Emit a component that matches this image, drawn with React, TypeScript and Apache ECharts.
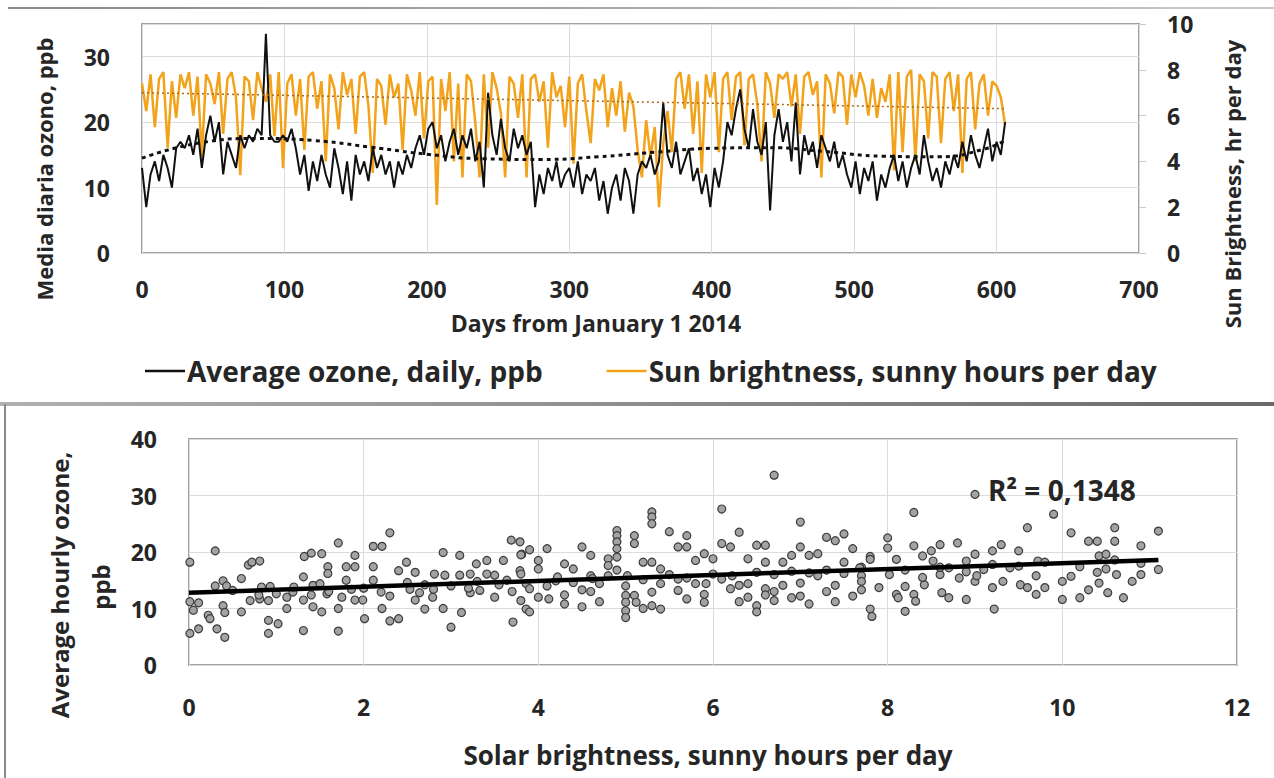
import React, { useEffect, useRef } from "react";
import * as echarts from "echarts";

// ---------- DATA ----------
const DAY_STEP = 3; // one reading every 3 days, day 0 .. 606

const ozoneDaily = [
  13, 7, 12, 14, 11, 15, 13, 10, 16, 17,
  16, 18, 15, 19, 13, 18, 21, 17, 20, 12,
  17, 15, 13, 18, 16, 18, 17, 19, 18, 33.5,
  18, 17, 17, 18, 17, 19, 16, 12, 15, 9.5,
  14, 11, 15, 12, 10, 16, 13, 9, 14, 8,
  15, 12, 14, 11, 16, 13, 15, 12, 14, 10,
  14, 12, 15, 13, 16, 18, 15, 19, 20, 16,
  18, 14, 17, 19, 15, 18, 16, 19, 14, 17,
  10, 24.5, 18, 15, 20.5, 16, 14, 19, 16, 18,
  15, 17, 7, 12, 9, 13, 11, 14, 10, 12,
  13, 10, 14, 9, 12, 11, 13, 8, 11, 6,
  10, 12, 8, 13, 11, 6, 12, 14, 13, 15,
  12, 14, 23, 15, 13, 17, 12, 14, 16, 11,
  13, 9, 12, 7, 13, 10, 14, 20, 18, 22,
  25, 19, 16, 22, 17, 15, 20, 6.5, 18, 22,
  17, 20, 14, 23, 12, 18, 15, 17, 13, 18,
  16, 14, 17, 13, 15, 12, 10, 14, 9, 13,
  11, 14, 8, 12, 10, 13, 15, 11, 14, 10,
  13, 15, 12, 18, 14, 11, 13, 10, 14, 12,
  15, 13, 17, 14, 18, 15, 13, 16, 19, 14,
  17, 15, 20,
];

const sunDaily = [
  7.4, 6.2, 7.8, 5.5, 7.6, 7.9, 4.6, 7.5, 5.9, 7.8,
  7.2, 7.9, 6.0, 7.7, 4.2, 7.8, 7.4, 6.5, 7.9, 5.2,
  7.6, 7.9, 6.8, 3.4, 7.7, 7.5, 5.8, 7.9, 7.2, 6.6,
  7.8, 5.1, 7.9, 3.7, 7.4, 7.8, 6.0, 7.6, 4.5, 7.7,
  7.9, 6.3, 7.5, 4.0, 7.8, 7.2, 5.4, 7.9, 6.9, 7.6,
  5.2, 7.7, 7.9, 6.4, 3.5, 7.6, 7.3, 5.6, 7.8, 6.8,
  7.4, 4.5, 7.8, 7.1, 6.0, 7.9, 5.0, 7.5, 7.7, 2.1,
  7.6, 6.2, 7.9, 4.0, 7.4, 3.3, 7.8, 7.5, 5.7, 3.3,
  7.8, 4.6, 7.9, 7.2, 6.1, 3.3, 7.7, 7.4, 5.9, 7.8,
  3.3, 7.6, 7.8, 6.6, 7.5, 4.6, 7.9, 6.8, 7.3, 5.5,
  7.7, 3.9, 7.4, 7.8, 6.2, 4.8, 7.6, 7.1, 7.8, 5.5,
  7.2, 6.0, 7.5, 5.3, 7.0, 6.4, 4.5, 3.3, 5.8, 4.2,
  5.5, 2.0, 4.8, 6.2, 4.4, 7.6, 7.9, 6.3, 7.8, 5.2,
  7.5, 3.5, 7.8, 6.8, 7.9, 4.4, 7.6, 7.9, 5.8, 7.7,
  7.9, 4.7, 7.6, 7.8, 6.5, 4.0, 7.9, 7.4, 5.9, 7.8,
  7.6, 7.9, 6.4, 7.8, 5.2, 7.7, 7.9, 6.9, 7.5, 3.3,
  7.8, 7.4, 6.1, 7.9, 7.7, 5.6, 7.8, 6.8, 7.9, 7.3,
  6.0, 7.6, 5.9, 7.2, 6.6, 7.8, 3.6, 7.9, 4.4, 7.7,
  8.0, 4.0, 7.8, 7.5, 5.0, 7.9, 7.7, 4.8, 7.6, 7.9,
  6.2, 7.8, 3.5, 7.6, 7.9, 5.4, 7.4, 7.8, 6.0, 7.5,
  7.3, 6.8, 5.6,
];

// trend lines
const ozoneTrendDays = [0, 40, 80, 120, 160, 200, 240, 280, 320, 360, 400, 440, 480, 520, 560, 590, 607];
const ozoneTrendVals = [14.5, 16.8, 17.5, 17.2, 16.2, 15.1, 14.4, 14.3, 14.7, 15.4, 16.0, 16.1, 15.5, 14.8, 14.7, 15.8, 17.3];
const sunTrendDays = [0, 607];
const sunTrendVals = [7.0, 6.3];

// scatter: [sunny hours, average hourly ozone]
const scatterPoints = [
  [0.01, 18.2], [0.01, 11.2], [0.05, 9.7], [0.01, 5.6], [0.11, 11.0], [0.11, 6.4], [0.22, 8.8], [0.24, 8.2],
  [0.3, 20.2], [0.3, 14.0], [0.32, 6.4], [0.39, 14.9], [0.43, 14.0], [0.39, 10.5], [0.41, 9.3], [0.41, 4.9],
  [0.6, 15.3], [0.6, 9.4], [0.68, 17.7], [0.72, 18.2], [0.81, 18.4], [0.7, 11.4], [0.81, 11.7], [0.91, 11.4],
  [0.83, 13.8], [0.93, 13.9], [0.91, 7.9], [1.02, 7.3], [0.91, 5.6], [1.12, 12.0], [1.12, 10.0], [1.19, 12.9],
  [1.31, 15.6], [1.31, 11.5], [1.31, 6.1], [1.32, 19.2], [1.4, 19.8], [1.52, 19.7], [1.42, 14.1], [1.42, 10.3],
  [1.52, 9.4], [1.59, 17.4], [1.59, 16.2], [1.5, 14.4], [1.58, 12.6], [1.71, 21.6], [1.71, 10.0], [1.71, 6.0],
  [1.8, 17.4], [1.9, 19.4], [1.9, 17.4], [1.9, 11.5], [1.8, 15.0], [1.86, 13.4], [1.99, 11.5], [2.01, 8.2],
  [2.11, 21.0], [2.21, 21.0], [2.11, 17.4], [2.21, 10.0], [2.11, 15.0], [2.3, 23.4], [2.3, 7.8], [2.4, 8.2],
  [2.4, 16.7], [2.49, 18.2], [2.59, 16.4], [2.59, 11.5], [2.7, 9.9], [2.53, 13.4], [2.64, 12.8], [2.81, 16.1],
  [2.91, 19.9], [2.91, 10.0], [2.93, 15.9], [2.79, 12.0], [3.0, 6.7], [3.1, 19.4], [3.1, 15.9], [3.12, 9.3],
  [3.22, 16.1], [3.22, 12.8], [3.29, 17.9], [3.41, 18.5], [3.41, 16.1], [3.33, 13.2], [3.5, 15.9], [3.5, 12.0],
  [3.6, 18.5], [3.69, 22.1], [3.79, 21.8], [3.71, 7.6], [3.79, 16.7], [3.86, 9.9], [3.81, 19.6], [3.64, 15.0],
  [3.86, 14.4], [0.5, 13.2], [1.0, 12.6], [1.2, 13.8], [1.6, 13.0], [2.0, 13.6], [2.3, 12.2], [2.5, 14.6],
  [2.8, 13.4], [3.0, 14.0], [3.2, 13.6], [3.55, 14.2], [3.7, 13.0], [1.4, 12.4], [2.2, 12.9], [2.7, 14.2],
  [3.3, 14.8], [1.75, 12.0], [0.8, 12.4],
  [3.8, 19.5], [3.9, 20.4], [3.8, 16.1], [3.8, 11.4], [3.9, 9.4], [3.9, 13.5], [4.0, 18.5], [4.1, 20.6],
  [4.0, 17.0], [4.1, 14.0], [4.0, 12.0], [4.12, 11.7], [4.3, 10.8], [4.2, 14.9], [4.3, 17.9], [4.4, 17.0],
  [4.5, 20.9], [4.5, 10.3], [4.6, 19.4], [4.6, 15.8], [4.6, 13.0], [4.7, 11.2], [4.7, 14.4], [4.8, 18.8],
  [4.8, 17.6], [4.9, 23.8], [4.9, 22.9], [4.9, 21.8], [4.9, 20.6], [4.9, 19.1], [4.9, 16.8], [5.0, 14.0],
  [5.0, 12.3], [5.0, 11.1], [5.0, 9.6], [5.0, 8.4], [5.1, 22.9], [5.1, 21.5], [5.1, 12.3], [5.12, 11.1],
  [5.02, 15.8], [5.2, 18.2], [5.3, 18.2], [5.3, 12.9], [5.3, 10.5], [5.4, 9.9], [5.4, 14.4], [5.5, 23.6],
  [5.4, 17.0], [5.3, 27.1], [5.3, 26.2], [5.3, 25.0], [5.6, 20.9], [5.7, 20.9], [5.7, 22.9], [5.6, 15.2],
  [5.7, 11.7], [5.8, 14.4], [5.8, 18.5], [5.9, 19.7], [5.9, 11.1], [5.92, 14.4], [6.0, 18.8], [6.1, 27.6],
  [6.1, 21.5], [6.1, 15.2], [6.2, 20.9], [6.2, 13.5], [6.3, 23.5], [6.3, 14.1], [6.3, 11.2], [6.4, 18.8],
  [6.4, 14.4], [6.5, 21.2], [6.5, 10.5], [6.5, 9.4], [6.6, 21.2], [6.6, 18.2], [6.6, 13.5], [6.7, 13.0],
  [6.7, 33.6], [6.7, 11.4], [6.8, 18.2], [6.8, 14.1], [6.9, 19.4], [6.9, 11.9], [7.0, 25.3], [7.0, 20.9],
  [7.0, 12.2], [7.1, 19.4], [7.1, 10.8], [7.2, 19.7], [7.2, 15.8], [7.3, 22.6], [7.4, 22.0], [7.4, 14.1],
  [7.5, 23.2], [7.5, 18.2], [7.6, 20.6], [7.6, 12.2], [7.7, 15.8], [7.8, 19.2], [7.8, 9.9], [4.22, 15.6],
  [4.4, 14.6], [4.62, 15.3], [4.8, 15.8], [5.2, 15.1], [5.5, 16.0], [5.7, 15.4], [6.0, 16.1], [6.22, 15.8],
  [6.5, 16.4], [6.7, 16.0], [6.9, 16.6], [7.1, 16.3], [7.3, 16.8], [7.5, 16.2], [7.7, 17.3], [4.5, 13.3],
  [5.6, 13.2], [6.6, 12.4], [7.3, 13.0], [7.0, 14.5], [5.9, 12.5], [4.3, 12.4], [6.4, 12.0], [7.4, 11.2],
  [5.2, 10.0],
  [7.68, 17.2], [7.7, 14.8], [7.7, 13.3], [7.8, 18.7], [7.82, 8.6], [7.9, 13.7], [8.0, 22.5], [8.0, 20.7],
  [8.02, 16.0], [8.1, 18.7], [8.1, 12.5], [8.12, 11.9], [8.2, 13.9], [8.2, 9.5], [8.3, 27.0], [8.3, 21.1],
  [8.3, 12.5], [8.32, 11.3], [8.4, 19.3], [8.42, 14.2], [8.5, 20.2], [8.52, 18.4], [8.6, 21.3], [8.6, 16.0],
  [8.62, 12.8], [8.7, 11.9], [8.7, 17.2], [8.8, 21.6], [8.82, 15.4], [8.9, 18.4], [8.9, 11.6], [9.0, 30.2],
  [9.0, 19.6], [9.0, 14.8], [9.1, 16.9], [9.2, 20.2], [9.2, 13.7], [9.22, 9.9], [9.3, 21.3], [9.32, 14.8],
  [9.4, 17.2], [9.5, 20.2], [9.52, 14.2], [9.6, 24.3], [9.6, 13.7], [9.7, 12.5], [9.72, 18.4], [9.8, 13.7],
  [9.9, 26.7], [10.0, 14.8], [10.0, 11.6], [10.1, 15.7], [10.1, 23.4], [10.2, 11.9], [10.3, 21.9], [10.3, 13.3],
  [10.4, 21.9], [10.42, 19.3], [10.42, 14.5], [10.5, 19.6], [10.5, 17.0], [10.52, 12.8], [10.6, 24.3], [10.6, 21.9],
  [10.62, 16.0], [10.7, 11.9], [10.8, 14.8], [10.9, 21.1], [10.9, 16.0], [11.1, 23.7], [11.1, 16.9], [8.2, 16.8],
  [8.6, 17.3], [8.9, 16.5], [9.2, 17.8], [9.5, 17.5], [9.8, 18.2], [10.2, 17.4], [10.6, 18.6], [10.9, 18.0],
  [8.4, 15.5], [9.02, 15.8], [9.7, 15.8], [10.4, 16.4],
];

const regressionX = [0, 11.1];
const regressionY = [12.8, 18.6];
const rSquaredLabel = "R² = 0,1348";

const ozoneName = "Average ozone, daily, ppb";
const sunName = "Sun brightness, sunny hours per day";

// ---------- STYLE ----------
const FONT = "'Open Sans', 'Noto Sans', 'DejaVu Sans', sans-serif";
const TEXT = "#262626";
const GRIDLINE = "#dcdcdc";
const ORANGE = "#F2A31B";

const label = (margin: number, extra: any = {}) => ({
  margin,
  fontSize: 23,
  fontWeight: "bold",
  fontFamily: FONT,
  color: TEXT,
  ...extra,
});

const titleText = (text: string, x: number, y: number, size: number, rotate = false, align = "center") => ({
  type: "text",
  x,
  y,
  rotation: rotate ? Math.PI / 2 : 0,
  z: 10,
  style: {
    text,
    fill: TEXT,
    fontSize: size,
    fontWeight: "bold",
    fontFamily: FONT,
    align,
    verticalAlign: "middle",
  },
});

export default function App() {
  const ref = useRef<HTMLDivElement>(null);

  useEffect(() => {
    if (!ref.current) return;
    const chart = echarts.init(ref.current, undefined, { renderer: "svg" });

    const option: any = {
      animation: false,
      backgroundColor: "#ffffff",
      legend: {
        data: [
          { name: ozoneName, icon: "rect", itemStyle: { color: "#111111" } },
          { name: sunName, icon: "rect", itemStyle: { color: ORANGE } },
        ],
        left: 140,
        top: 352,
        itemWidth: 40,
        itemHeight: 2.5,
        itemGap: 64,
        textStyle: { fontSize: 28, fontWeight: "bold", fontFamily: FONT, color: TEXT, padding: [0, 0, 0, -3] },
      },
      grid: [
        { left: 142, top: 24, width: 997, height: 229, show: true, borderColor: "#a0a0a0", borderWidth: 2 },
        { left: 189, top: 439, width: 1048, height: 226, show: true, borderColor: "#a0a0a0", borderWidth: 2 },
      ],
      xAxis: [
        {
          gridIndex: 0, type: "value", min: 0, max: 700, interval: 100,
          axisLine: { show: false }, axisTick: { show: false },
          splitLine: { show: true, lineStyle: { color: GRIDLINE, width: 1 } },
          axisLabel: label(24),
        },
        {
          gridIndex: 1, type: "value", min: 0, max: 12, interval: 2,
          axisLine: { show: false }, axisTick: { show: false },
          splitLine: { show: true, lineStyle: { color: GRIDLINE, width: 1 } },
          axisLabel: label(30),
        },
      ],
      yAxis: [
        {
          gridIndex: 0, type: "value", min: 0, max: 35, interval: 10, position: "left",
          axisLine: { show: false }, axisTick: { show: false },
          splitLine: { show: true, lineStyle: { color: GRIDLINE, width: 1 } },
          axisLabel: label(32, { showMaxLabel: false }),
        },
        {
          gridIndex: 0, type: "value", min: 0, max: 10, interval: 2, position: "right",
          axisLine: { show: false },
          axisTick: { show: true, length: 7, inside: false, lineStyle: { color: "#c8c8c8" } },
          splitLine: { show: false },
          axisLabel: label(28),
        },
        {
          gridIndex: 1, type: "value", min: 0, max: 40, interval: 10,
          axisLine: { show: false }, axisTick: { show: false },
          splitLine: { show: true, lineStyle: { color: GRIDLINE, width: 1 } },
          axisLabel: label(32),
        },
      ],
      series: [
        {
          name: sunName, type: "line", xAxisIndex: 0, yAxisIndex: 1, z: 2,
          symbol: "none", data: sunDaily.map((v, i) => [i * DAY_STEP, v]),
          lineStyle: { color: ORANGE, width: 2.5 }, itemStyle: { color: ORANGE },
        },
        {
          name: ozoneName, type: "line", xAxisIndex: 0, yAxisIndex: 0, z: 3,
          symbol: "none", data: ozoneDaily.map((v, i) => [i * DAY_STEP, v]),
          lineStyle: { color: "#111111", width: 2 }, itemStyle: { color: "#111111" },
        },
        {
          name: "sunTrend", type: "line", xAxisIndex: 0, yAxisIndex: 1, z: 4,
          symbol: "none", data: sunTrendDays.map((d, i) => [d, sunTrendVals[i]]),
          lineStyle: { color: "#a86a1a", width: 1.5, type: [2, 3] },
        },
        {
          name: "ozoneTrend", type: "line", xAxisIndex: 0, yAxisIndex: 0, z: 5, smooth: true,
          symbol: "none", data: ozoneTrendDays.map((d, i) => [d, ozoneTrendVals[i]]),
          lineStyle: { color: "#111111", width: 3, type: [4, 4] },
        },
        {
          name: "scatter", type: "scatter", xAxisIndex: 1, yAxisIndex: 2, z: 3,
          symbol: "circle", symbolSize: 8, data: scatterPoints,
          itemStyle: { color: "#a3a3a3", borderColor: "#3c3c3c", borderWidth: 1.2, opacity: 1 },
        },
        {
          name: "regression", type: "line", xAxisIndex: 1, yAxisIndex: 2, z: 6,
          symbol: "none", data: regressionX.map((x, i) => [x, regressionY[i]]),
          lineStyle: { color: "#000000", width: 4.5 },
        },
      ],
      graphic: [
        {
          type: "rect", shape: { x: 8, y: 7, width: 1266, height: 2 }, z: 0,
          style: { fill: new echarts.graphic.LinearGradient(0, 0, 1, 0, [
            { offset: 0, color: "#8a8a8a" }, { offset: 1, color: "#c8c8c8" },
          ]) },
        },
        {
          type: "rect", shape: { x: 0, y: 402, width: 1274, height: 4 }, z: 0,
          style: { fill: new echarts.graphic.LinearGradient(0, 0, 1, 0, [
            { offset: 0, color: "#b0b0b0" }, { offset: 1, color: "#6a6a6a" },
          ]) },
        },
        { type: "rect", shape: { x: 4, y: 404, width: 2, height: 374 }, z: 0, style: { fill: "#8a8a8a" } },
        titleText("Media diaria ozono, ppb", 44, 169, 22, true),
        titleText("Sun Brightness, hr per day", 1232, 184, 22, true),
        titleText("Days from January 1 2014", 596, 323, 23),
        titleText("Average hourly ozone,", 59, 585, 24, true),
        titleText("ppb", 100, 587, 24, true),
        titleText("Solar brightness, sunny hours per day", 708, 755, 26),
        titleText(rSquaredLabel, 988, 490, 28, false, "left"),
      ],
    };

    chart.setOption(option);
    return () => chart.dispose();
  }, []);

  return (
    <div
      ref={ref}
      style={{ position: "absolute", left: 0, top: 0, width: 1274, height: 778, background: "#fff" }}
    />
  );
}
